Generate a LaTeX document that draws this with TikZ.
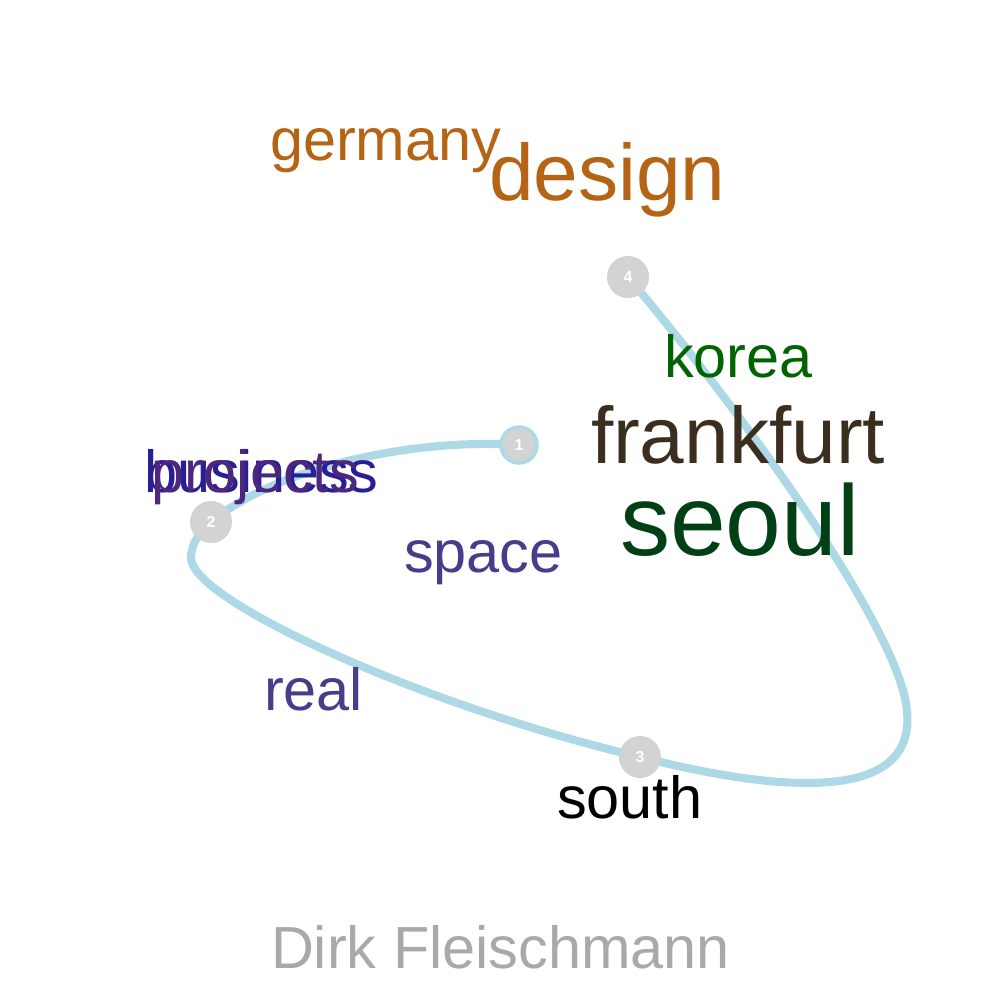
\documentclass[tikz,border=0pt]{standalone}
\usepackage{fontspec}
\setmainfont{Liberation Sans}
\definecolor{lblue}{RGB}{173,216,230}
\definecolor{lgray}{RGB}{211,211,211}
\definecolor{goldbrown}{RGB}{180,100,20}
\definecolor{fbrown}{RGB}{60,46,30}
\definecolor{sgreen}{RGB}{0,64,20}
\definecolor{kgreen}{RGB}{0,100,0}
\definecolor{slate}{RGB}{72,61,139}
\definecolor{bblue}{RGB}{40,30,150}
\definecolor{ppurple}{RGB}{75,40,125}
\definecolor{dgray}{RGB}{169,169,169}
\newlength{\pxu}\setlength{\pxu}{0.1mm}
\tikzset{
  word/.style={anchor=base west, inner sep=0pt, outer sep=0pt},
  small/.style={font=\fontsize{16.9}{16.9}\selectfont},
  medium/.style={font=\fontsize{22.8}{22.8}\selectfont},
  large/.style={font=\fontsize{28.5}{28.5}\selectfont},
  stop/.style={circle, fill=lgray, minimum size=42\pxu, inner sep=0pt, text=white, font=\fontsize{4.5}{4.5}\selectfont\bfseries},
  route/.style={draw=lblue, line width=2.3pt, line cap=round}
}
\begin{document}
\begin{tikzpicture}[x=0.01cm, y=-0.01cm]
\useasboundingbox (0,0) rectangle (1000,1000);
\coordinate (p1) at (519,445);
\coordinate (p2) at (211,522);
\coordinate (p3) at (640,757);
\coordinate (p4) at (628,277);
\coordinate (lft) at (191,558);
\coordinate (rgt) at (907,712);
\draw[route] (p1) .. controls (420,438) and (280,465) .. (p2)
  .. controls (196,534) and (191,548) .. (lft)
  .. controls (191,600) and (420,705) .. (p3)
  .. controls (790,795) and (915,800) .. (rgt)
  .. controls (903,640) and (765,440) .. (p4);
\node[stop, minimum size=36\pxu, draw=lblue, line width=1pt] (n1) at (p1) {1};
\node[stop] (n2) at (p2) {2};
\node[stop] (n3) at (p3) {3};
\node[stop] (n4) at (p4) {4};
\node[word, small, text=goldbrown] (germany) at (270,160) {germany};
\node[word, medium, text=goldbrown] (design) at (489,200) {design};
\node[word, small, text=kgreen] (korea) at (664,377) {korea};
\node[word, medium, text=fbrown] (frankfurt) at (591,463) {frankfurt};
\node[word, large, text=sgreen] (seoul) at (620,555) {seoul};
\node[word, small, text=bblue] (business) at (144,492) {business};
\node[word, small, text=ppurple] (projects) at (151,492) {projects};
\node[word, small, text=slate] (space) at (404,572) {space};
\node[word, small, text=slate] (real) at (264,710) {real};
\node[word, small, text=black] (south) at (557,818) {south};
\node[word, small, text=dgray] (author) at (271,968) {Dirk Fleischmann};
\end{tikzpicture}
\end{document}
